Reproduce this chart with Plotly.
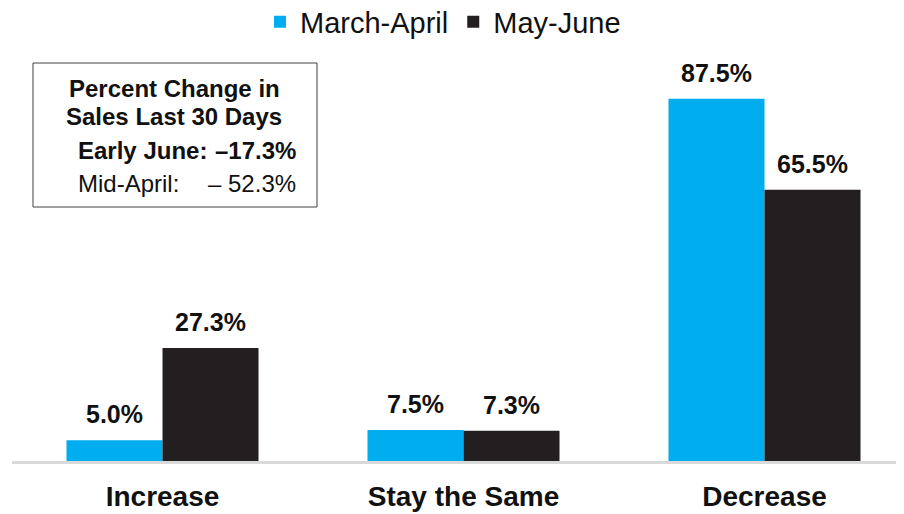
import plotly.graph_objects as go

categories = ["Increase", "Stay the Same", "Decrease"]
march_april = [5.0, 7.5, 87.5]
may_june = [27.3, 7.3, 65.5]
series_names = ["March-April", "May-June"]
colors = ["#00AEEF", "#231F20"]

FONT = "Arial, Liberation Sans, sans-serif"
OFF = 8  # page body margin
W, H = 904 - OFF, 514 - OFF
ML, MR, MT, MB = 4, 0, 32, 53
PW, PH = W - ML - MR, H - MT - MB

def px(x):
    return (x - OFF - ML) / PW

def py(y):
    return (H - MB - (y - OFF)) / PH

fig = go.Figure()
for name, vals, col in zip(series_names, [march_april, may_june], colors):
    fig.add_trace(go.Bar(x=categories, y=vals, name=name, marker_color=col,
                         marker_line_width=0))

annotations = []
for vals, shift in [(march_april, -48), (may_june, 48)]:
    for c, v in zip(categories, vals):
        annotations.append(dict(x=c, y=v, xref="x", yref="y", text=f"<b>{v:.1f}%</b>",
                                showarrow=False, xshift=shift, yshift=26, yanchor="middle",
                                font=dict(family=FONT, size=25, color="#111111")))

box_font = dict(family=FONT, size=24, color="#111111")
annotations += [
    dict(x=px(174), y=py(88), xref="paper", yref="paper", text="<b>Percent Change in</b>",
         showarrow=False, xanchor="center", yanchor="middle", font=box_font),
    dict(x=px(174), y=py(116), xref="paper", yref="paper", text="<b>Sales Last 30 Days</b>",
         showarrow=False, xanchor="center", yanchor="middle", font=box_font),
    dict(x=px(76), y=py(150), xref="paper", yref="paper", text="<b>Early June:</b>",
         showarrow=False, xanchor="left", yanchor="middle", font=box_font),
    dict(x=px(298), y=py(150), xref="paper", yref="paper", text="<b>\u201317.3%</b>",
         showarrow=False, xanchor="right", yanchor="middle", font=box_font),
    dict(x=px(76), y=py(183), xref="paper", yref="paper", text="Mid-April:",
         showarrow=False, xanchor="left", yanchor="middle", font=box_font),
    dict(x=px(298), y=py(183), xref="paper", yref="paper", text="\u2013 52.3%",
         showarrow=False, xanchor="right", yanchor="middle", font=box_font),
]

shapes = [dict(type="rect", xref="paper", yref="paper", x0=px(33), x1=px(317),
               y0=py(207), y1=py(63), line=dict(color="#404040", width=1),
               fillcolor="rgba(0,0,0,0)")]

fig.update_layout(
    width=W, height=H,
    margin=dict(l=ML, r=MR, t=MT, b=MB, autoexpand=False),
    paper_bgcolor="white", plot_bgcolor="white",
    barmode="group", bargap=0.362, bargroupgap=0,
    font=dict(family=FONT, color="#111111"),
    showlegend=True,
    legend=dict(orientation="h", xref="container", yref="container",
                x=(443 - OFF) / W, xanchor="center", y=1.0 - (22 - OFF) / H,
                yanchor="middle",
                font=dict(family=FONT, size=29, color="#111111"),
                bgcolor="rgba(0,0,0,0)", itemwidth=30),
    annotations=annotations,
    shapes=shapes,
)
fig.update_xaxes(range=[-0.5, -0.5 + PW / 301], showline=True, linecolor="#D9D9D9",
                 linewidth=3, showgrid=False, zeroline=False, ticks="",
                 tickfont=dict(family=FONT, size=28, color="#111111"),
                 tickprefix="<b>", ticksuffix="</b>", ticklabelstandoff=8,
                 automargin=False)
fig.update_yaxes(range=[0, PH / 4.14], visible=False, showgrid=False, zeroline=False)

fig.write_html("out.html")
